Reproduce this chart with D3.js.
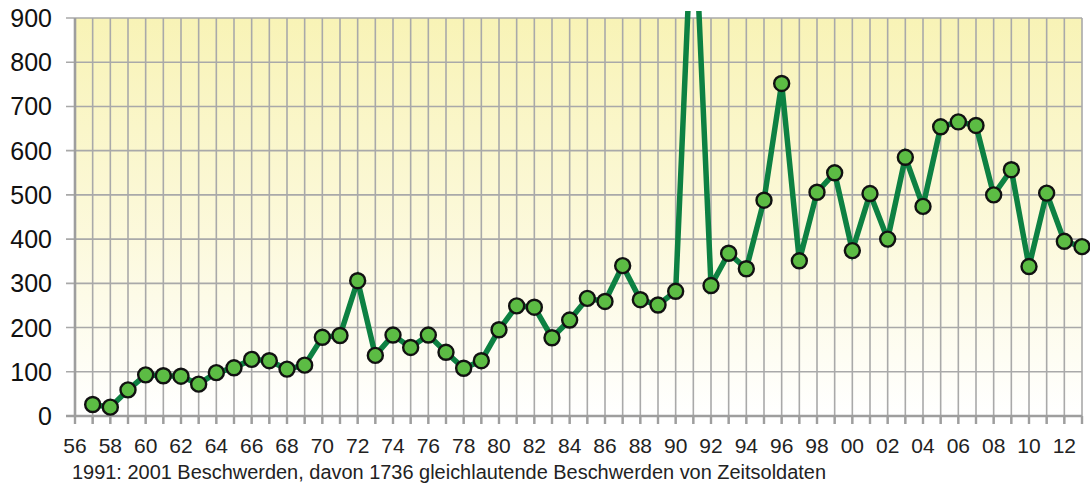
<!DOCTYPE html>
<html>
<head>
<meta charset="utf-8">
<script src="https://cdn.jsdelivr.net/npm/d3@7"></script>
<style>
  body { margin: 0; background: #fff; }
  svg { display: block; font-family: Arial, "Liberation Sans", sans-serif; }
</style>
</head>
<body>
<div id="chart"></div>
<script>
// Eingaben/Beschwerden pro Jahr (1957-2013)
// 1991 runs off the top of the chart; the slope of the line puts the drawn peak near 1200
var years = [1957,1958,1959,1960,1961,1962,1963,1964,1965,1966,1967,1968,1969,1970,
  1971,1972,1973,1974,1975,1976,1977,1978,1979,1980,1981,1982,1983,1984,1985,1986,
  1987,1988,1989,1990,1991,1992,1993,1994,1995,1996,1997,1998,1999,2000,2001,2002,
  2003,2004,2005,2006,2007,2008,2009,2010,2011,2012,2013];
var values = [26,20,59,93,91,90,72,98,109,128,125,106,115,178,
  182,306,137,183,155,183,144,108,125,195,249,246,177,217,266,259,
  340,263,251,282,1200,295,368,333,488,752,351,506,550,374,503,400,
  585,474,654,665,657,500,557,338,504,395,383];
var yTicks = [0,100,200,300,400,500,600,700,800,900];
var caption = "1991: 2001 Beschwerden, davon 1736 gleichlautende Beschwerden von Zeitsoldaten";

var W = 1090, H = 488;
var margin = {top: 18, right: 8, bottom: 72, left: 75},
    width = W - margin.left - margin.right,
    height = H - margin.top - margin.bottom;

var svg = d3.select("#chart").append("svg")
  .attr("width", W)
  .attr("height", H);

var defs = svg.append("defs");
var grad = defs.append("linearGradient")
  .attr("id", "bg").attr("x1", 0).attr("y1", 0).attr("x2", 0).attr("y2", 1);
grad.append("stop").attr("offset", "0%").attr("stop-color", "#f8f3b6");
grad.append("stop").attr("offset", "55%").attr("stop-color", "#fcf9dc");
grad.append("stop").attr("offset", "100%").attr("stop-color", "#ffffff");

defs.append("clipPath").attr("id", "clip")
  .append("rect").attr("x", -margin.left).attr("y", -7)
  .attr("width", W).attr("height", H);

var g = svg.append("g")
  .attr("transform", "translate(" + margin.left + "," + margin.top + ")");

var x = d3.scaleLinear().domain([1956, 2013]).range([0, width]);
var y = d3.scaleLinear().domain([0, 900]).range([height, 0]);

g.append("rect")
  .attr("width", width).attr("height", height)
  .attr("fill", "url(#bg)");

// vertical grid, one line per year
var allYears = d3.range(1956, 2014);
g.append("g").selectAll("line")
  .data(allYears).enter().append("line")
  .attr("x1", function (d) { return x(d); })
  .attr("x2", function (d) { return x(d); })
  .attr("y1", 0).attr("y2", height + 8)
  .attr("stroke", "#a9a9a9").attr("stroke-width", 1.6);

// horizontal grid
g.append("g").selectAll("line")
  .data(yTicks).enter().append("line")
  .attr("x1", -9).attr("x2", width)
  .attr("y1", function (d) { return y(d); })
  .attr("y2", function (d) { return y(d); })
  .attr("stroke", "#a9a9a9").attr("stroke-width", 1.6);

// axis lines
g.append("line").attr("x1", 0).attr("x2", 0).attr("y1", 0).attr("y2", height)
  .attr("stroke", "#9e9e9e").attr("stroke-width", 2.6);
g.append("line").attr("x1", -9).attr("x2", width).attr("y1", height).attr("y2", height)
  .attr("stroke", "#9e9e9e").attr("stroke-width", 2.6);
g.append("g").selectAll("line")
  .data(allYears).enter().append("line")
  .attr("x1", function (d) { return x(d); })
  .attr("x2", function (d) { return x(d); })
  .attr("y1", height).attr("y2", height + 8)
  .attr("stroke", "#9e9e9e").attr("stroke-width", 2.4);

// y labels
g.append("g").selectAll("text")
  .data(yTicks).enter().append("text")
  .attr("x", -23)
  .attr("y", function (d) { return y(d); })
  .attr("dy", "0.36em")
  .attr("text-anchor", "end")
  .attr("font-size", 25)
  .attr("fill", "#111")
  .text(function (d) { return d; });

// x labels (every second year, two digits)
var labelYears = allYears.filter(function (d) { return d % 2 === 0; });
g.append("g").selectAll("text")
  .data(labelYears).enter().append("text")
  .attr("x", function (d) { return x(d); })
  .attr("y", height + 37)
  .attr("text-anchor", "middle")
  .attr("font-size", 21)
  .attr("fill", "#222")
  .text(function (d) { return String(d % 100).padStart(2, "0"); });

svg.append("text")
  .attr("x", 72).attr("y", 479)
  .attr("font-size", 20)
  .attr("fill", "#222")
  .attr("textLength", 754)
  .attr("lengthAdjust", "spacingAndGlyphs")
  .text(caption);

var data = years.map(function (d, i) { return {year: d, value: values[i]}; });

var line = d3.line()
  .x(function (d) { return x(d.year); })
  .y(function (d) { return y(d.value); });

var plot = g.append("g").attr("clip-path", "url(#clip)");

plot.append("path")
  .datum(data)
  .attr("fill", "none")
  .attr("stroke", "#0d8142")
  .attr("stroke-width", 5.5)
  .attr("stroke-linejoin", "miter")
  .attr("d", line);

plot.selectAll("circle")
  .data(data.filter(function (d) { return d.value <= 900; }))
  .enter().append("circle")
  .attr("cx", function (d) { return x(d.year); })
  .attr("cy", function (d) { return y(d.value); })
  .attr("r", 7.5)
  .attr("fill", "#5cbc44")
  .attr("stroke", "#111")
  .attr("stroke-width", 2.4);
</script>
</body>
</html>
